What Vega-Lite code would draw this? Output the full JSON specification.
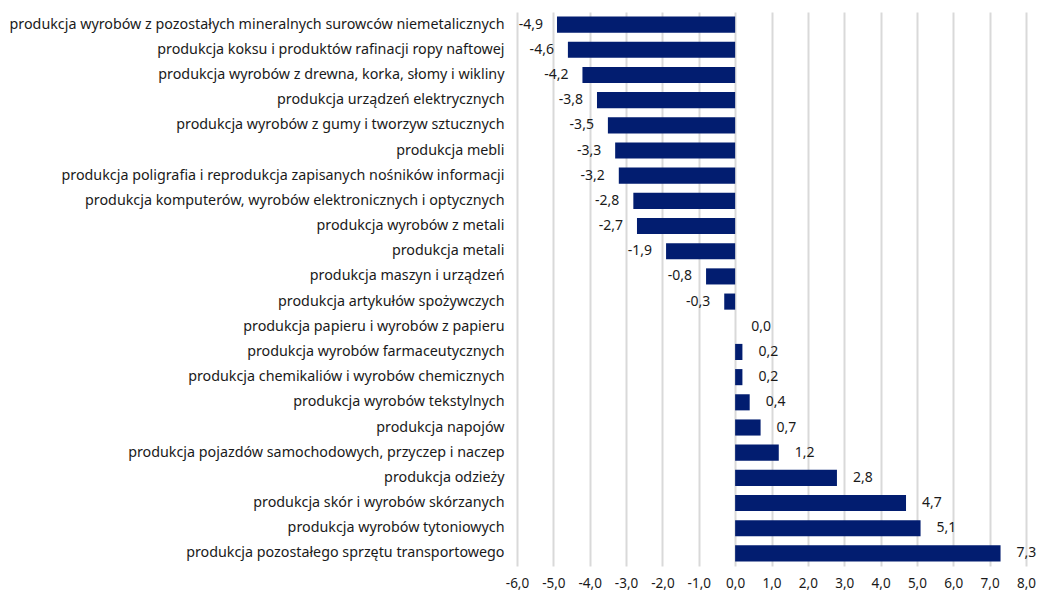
{
  "$schema": "https://vega.github.io/schema/vega-lite/v6.json",
  "autosize": {"type": "none"},
  "width": 509,
  "height": 554,
  "padding": {"left": 517, "top": 12, "right": 16, "bottom": 28},
  "background": "white",
  "config": {
    "view": {"stroke": null},
    "font": "Noto Sans",
    "locale": {"number": {"decimal": ",", "thousands": " ", "grouping": [3], "currency": ["", " zł"], "minus": "-"}},
    "axis": {"labelFont": "Noto Sans", "labelColor": "#1a1a1a"}
  },
  "data": {
    "values": [
      {"cat": "produkcja wyrobów z pozostałych mineralnych surowców niemetalicznych", "v": -4.9},
      {"cat": "produkcja koksu i produktów rafinacji ropy naftowej", "v": -4.6},
      {"cat": "produkcja wyrobów z drewna, korka, słomy i wikliny", "v": -4.2},
      {"cat": "produkcja urządzeń elektrycznych", "v": -3.8},
      {"cat": "produkcja wyrobów z gumy i tworzyw sztucznych", "v": -3.5},
      {"cat": "produkcja mebli", "v": -3.3},
      {"cat": "produkcja poligrafia i reprodukcja zapisanych nośników informacji", "v": -3.2},
      {"cat": "produkcja komputerów, wyrobów elektronicznych i optycznych", "v": -2.8},
      {"cat": "produkcja wyrobów z metali", "v": -2.7},
      {"cat": "produkcja metali", "v": -1.9},
      {"cat": "produkcja maszyn i urządzeń", "v": -0.8},
      {"cat": "produkcja artykułów spożywczych", "v": -0.3},
      {"cat": "produkcja papieru i wyrobów z papieru", "v": 0.0},
      {"cat": "produkcja wyrobów farmaceutycznych", "v": 0.2},
      {"cat": "produkcja chemikaliów i wyrobów chemicznych", "v": 0.2},
      {"cat": "produkcja wyrobów tekstylnych", "v": 0.4},
      {"cat": "produkcja napojów", "v": 0.7},
      {"cat": "produkcja pojazdów samochodowych, przyczep i naczep", "v": 1.2},
      {"cat": "produkcja odzieży", "v": 2.8},
      {"cat": "produkcja skór i wyrobów skórzanych", "v": 4.7},
      {"cat": "produkcja wyrobów tytoniowych", "v": 5.1},
      {"cat": "produkcja pozostałego sprzętu transportowego", "v": 7.3}
    ]
  },
  "encoding": {
    "y": {
      "field": "cat", "type": "nominal", "sort": null, "title": null,
      "scale": {"paddingInner": 0.36, "paddingOuter": 0.18},
      "axis": {"domain": false, "ticks": false, "labelFontSize": 14.3, "labelPadding": 13, "labelLimit": 600}
    },
    "x": {
      "field": "v", "type": "quantitative", "title": null,
      "scale": {"domain": [-6, 8], "nice": false, "zero": false},
      "axis": {
        "tickCount": 14,
        "tickMinStep": 1,
        "format": ".1f",
        "labelOverlap": false,
        "labelSeparation": 0,
        "labelFlush": false,
        "domain": false, "ticks": false, "grid": true,
        "gridColor": "#d9d9d9", "gridWidth": 2,
        "labelFontSize": 13.5, "labelPadding": 10
      }
    }
  },
  "layer": [
    {
      "mark": {"type": "bar", "color": "#021d70"}
    },
    {
      "transform": [{"filter": "datum.v < 0"}],
      "mark": {"type": "text", "align": "right", "baseline": "middle", "dx": -14, "fontSize": 14, "color": "#1a1a1a"},
      "encoding": {
        "text": {"field": "v", "type": "quantitative", "format": ".1f"}
      }
    },
    {
      "transform": [{"filter": "datum.v >= 0"}],
      "mark": {"type": "text", "align": "left", "baseline": "middle", "dx": 16, "fontSize": 14, "color": "#1a1a1a"},
      "encoding": {
        "text": {"field": "v", "type": "quantitative", "format": ".1f"}
      }
    }
  ]
}
